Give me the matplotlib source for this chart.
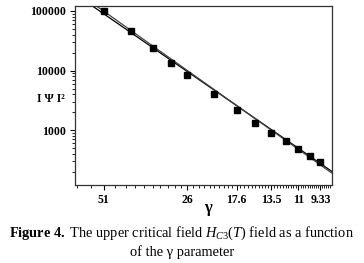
import numpy as np
import matplotlib
matplotlib.use("Agg")
import matplotlib.pyplot as plt
from matplotlib.ticker import FixedLocator, FixedFormatter, NullFormatter

plt.rcParams['font.family'] = ['Liberation Serif', 'DejaVu Serif']
plt.rcParams['mathtext.fontset'] = 'custom'
plt.rcParams['mathtext.rm'] = 'Liberation Serif'
plt.rcParams['mathtext.it'] = 'Liberation Serif:italic'
plt.rcParams['mathtext.bf'] = 'Liberation Serif:bold'

# data
u = [1, 1.25, 1.5, 1.75, 2, 2.5, 3, 3.5, 4, 4.5, 5, 5.5, 6]
psi2 = [100000, 45900, 23900, 13400, 8480, 4090, 2210, 1340, 915, 648, 477, 364, 290]

# two straight fit lines (end points)
fit1_u = [0.913, 6.58]
fit1_y = [121000, 205]
fit2_u = [0.944, 6.58]
fit2_y = [121000, 192]

gamma_pos = [1, 2, 3, 4, 5, 6]
gamma_labels = ['51', '26', '17.6', '13.5', '11', '9.33']

fig = plt.figure(figsize=(3.64, 2.63), dpi=100)
ax = fig.add_axes([0.206, 0.297, 0.706, 0.68])

ax.plot(fit1_u, fit1_y, color='black', lw=0.9)
ax.plot(fit2_u, fit2_y, color='#444444', lw=0.9)
ax.plot(u, psi2, 's', color='black', ms=5, lw=0)

ax.set_xscale('log')
ax.set_yscale('log')
ax.set_xlim(0.79, 6.6)
ax.set_ylim(121, 121000)

ax.xaxis.set_major_locator(FixedLocator(gamma_pos))
ax.xaxis.set_major_formatter(FixedFormatter(gamma_labels))
minor = [round(v, 1) for v in np.arange(0.8, 6.6, 0.1) if abs(v - round(v)) > 0.01]
ax.xaxis.set_minor_locator(FixedLocator(minor))
ax.xaxis.set_minor_formatter(NullFormatter())

ax.yaxis.set_major_locator(FixedLocator([1000, 10000, 100000]))
ax.yaxis.set_major_formatter(FixedFormatter(['1000', '10000', '100000']))
ax.yaxis.set_minor_formatter(NullFormatter())

for s in ax.spines.values():
    s.set_linewidth(0.9)
    s.set_color('#333333')
ax.tick_params(which='major', length=3.5, width=0.8, labelsize=8.5, pad=3)
ax.tick_params(which='minor', length=2, width=0.6)
for t in ax.get_xticklabels() + ax.get_yticklabels():
    t.set_fontweight('bold')

fig.text(0.572, 0.21, 'γ', fontsize=12, fontweight='bold', ha='center', va='center')
fig.text(0.14, 0.625, 'I Ψ I²', fontsize=8.5, fontweight='bold', ha='center', va='center')

fig.text(0.5, 0.114, r'$\mathbf{Figure\ 4.}$ The upper critical field $\mathit{H_{C3}(T)}$ field as a function',
         fontsize=10.4, ha='center', va='center')
fig.text(0.5, 0.042, 'of the γ parameter', fontsize=10.4, ha='center', va='center')

fig.savefig('out.png', dpi=100)
